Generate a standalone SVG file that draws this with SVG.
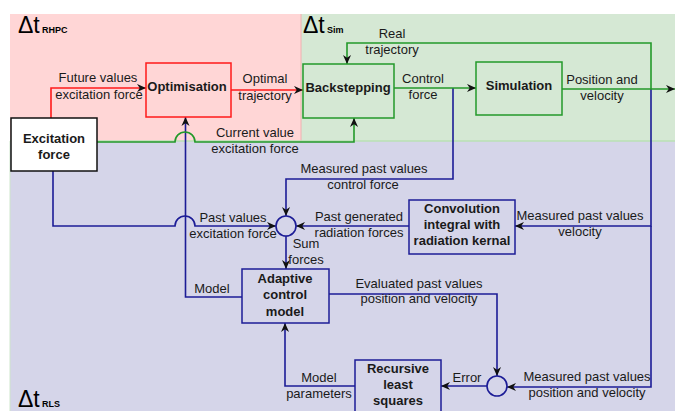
<svg xmlns="http://www.w3.org/2000/svg" width="675" height="411" viewBox="0 0 675 411">
<style>
  text { font-family: "Liberation Sans", Arial, sans-serif; fill: #1a1a1a; }
  .lbl { font-size: 13px; text-anchor: middle; }
  .node { font-size: 13px; font-weight: bold; text-anchor: middle; }
  .delta { font-size: 23px; fill: #000; }
  .sub { font-size: 9px; font-weight: bold; fill: #000; }
  .red { stroke: #ff1a1a; stroke-width: 1.6; fill: none; }
  .grn { stroke: #23992a; stroke-width: 1.6; fill: none; }
  .blu { stroke: #1c1c96; stroke-width: 1.6; fill: none; }
</style>
<defs>
  <marker id="arr" viewBox="0 0 10 10" refX="10" refY="5" markerWidth="9" markerHeight="9" markerUnits="userSpaceOnUse" orient="auto">
    <path d="M0,0.5 L10,5 L0,9.5 L3,5 z" fill="#111"/>
  </marker>
</defs>
<rect x="0" y="0" width="675" height="411" fill="#ffffff"/>
<g id="regions">
  <rect x="10" y="14" width="291" height="127" fill="#ffd6d6"/>
  <rect x="301" y="14" width="374" height="127" fill="#d5e8d4"/>
  <line x1="301" y1="14" x2="301" y2="141" stroke="#f0b0b0" stroke-width="1"/>
  <rect x="10" y="141" width="665" height="270" fill="#d5d5e9"/>
  <line x1="10" y1="141" x2="675" y2="141" stroke="#b8e0b4" stroke-width="1.5"/>
  <line x1="10" y1="141" x2="10" y2="411" stroke="#cfe6cc" stroke-width="1"/>
  <text class="delta" x="18" y="33">Δt</text><text class="sub" x="42" y="33">RHPC</text>
  <text class="delta" x="303" y="33">Δt</text><text class="sub" x="327" y="33">Sim</text>
  <text class="delta" x="18" y="407">Δt</text><text class="sub" x="42" y="407">RLS</text>
</g>
<g id="connectors">
  <!-- blue -->
  <path class="blu" d="M651,89 V226 H515" marker-end="url(#arr)"/>
  <path class="blu" d="M651,226 V387 H507" marker-end="url(#arr)"/>
  <path class="blu" d="M453,88 V179 H286 V216" marker-end="url(#arr)"/>
  <path class="blu" d="M409,226 H296" marker-end="url(#arr)"/>
  <path class="blu" d="M53,171 V226 H175 A10,10 0 0 1 195,226 H276" marker-end="url(#arr)"/>
  <path class="blu" d="M286,236 V269" marker-end="url(#arr)"/>
  <path class="blu" d="M242,297 H185.5 V117" marker-end="url(#arr)"/>
  <path class="blu" d="M329,294 H497 V376" marker-end="url(#arr)"/>
  <path class="blu" d="M487,386 H441" marker-end="url(#arr)"/>
  <path class="blu" d="M355,386 H285 V323" marker-end="url(#arr)"/>
  <!-- red -->
  <path class="red" d="M51,118 V88 H146" marker-end="url(#arr)"/>
  <path class="red" d="M231,90 H303" marker-end="url(#arr)"/>
  <!-- green -->
  <path class="grn" d="M97,142 H175 A10,10 0 0 1 195,142 H354 V118" marker-end="url(#arr)"/>
  <path class="grn" d="M394,88 H476" marker-end="url(#arr)"/>
  <path class="grn" d="M562,89 H675" marker-end="url(#arr)"/>
  <path class="grn" d="M651,89 V43 H347 V64" marker-end="url(#arr)"/>
  <circle class="blu" cx="286" cy="226" r="10"/>
  <circle class="blu" cx="497" cy="386" r="10"/>
  <!-- labels -->
  <text class="lbl" x="98" y="82">Future values</text>
  <text class="lbl" x="99" y="99">excitation force</text>
  <text class="lbl" x="265" y="83">Optimal</text>
  <text class="lbl" x="265" y="100">trajectory</text>
  <text class="lbl" x="255" y="137">Current value</text>
  <text class="lbl" x="255" y="153">excitation force</text>
  <text class="lbl" x="392" y="38">Real</text>
  <text class="lbl" x="392" y="54">trajectory</text>
  <text class="lbl" x="423" y="83">Control</text>
  <text class="lbl" x="423" y="99">force</text>
  <text class="lbl" x="602" y="84">Position and</text>
  <text class="lbl" x="602" y="100">velocity</text>
  <text class="lbl" x="364" y="173">Measured past values</text>
  <text class="lbl" x="363" y="189">control force</text>
  <text class="lbl" x="233" y="222">Past values</text>
  <text class="lbl" x="233" y="238">excitation force</text>
  <text class="lbl" x="359" y="221">Past generated</text>
  <text class="lbl" x="359" y="237">radiation forces</text>
  <text class="lbl" x="580" y="220">Measured past values</text>
  <text class="lbl" x="580" y="236">velocity</text>
  <text class="lbl" x="306" y="248">Sum</text>
  <text class="lbl" x="306" y="264">forces</text>
  <text class="lbl" x="212" y="293">Model</text>
  <text class="lbl" x="419" y="288">Evaluated past values</text>
  <text class="lbl" x="419" y="303">position and velocity</text>
  <text class="lbl" x="467" y="382">Error</text>
  <text class="lbl" x="319" y="382">Model</text>
  <text class="lbl" x="319" y="398">parameters</text>
  <text class="lbl" x="587" y="381">Measured past values</text>
  <text class="lbl" x="587" y="397">position and velocity</text>
</g>
<g id="excitation">
  <rect x="11" y="118" width="86" height="53" fill="#ffffff" stroke="#111" stroke-width="1.5"/>
  <text class="node" x="54" y="143">Excitation</text>
  <text class="node" x="54" y="159">force</text>
</g>
<g id="optimisation">
  <rect x="146" y="63" width="85" height="54" fill="#ffd6d6" stroke="#ff1a1a" stroke-width="1.5"/>
  <text class="node" x="187" y="91">Optimisation</text>
</g>
<g id="backstepping">
  <rect x="303" y="64" width="91" height="54" fill="#d5e8d4" stroke="#23992a" stroke-width="1.5"/>
  <text class="node" x="348" y="92">Backstepping</text>
</g>
<g id="simulation">
  <rect x="476" y="62" width="86" height="53" fill="#d5e8d4" stroke="#23992a" stroke-width="1.5"/>
  <text class="node" x="519" y="90">Simulation</text>
</g>
<g id="convolution">
  <rect x="409" y="200" width="106" height="54" fill="#d5d5e9" stroke="#1c1c96" stroke-width="1.5"/>
  <text class="node" x="462" y="213">Convolution</text>
  <text class="node" x="462" y="229">integral with</text>
  <text class="node" x="462" y="245">radiation kernal</text>
</g>
<g id="adaptive">
  <rect x="242" y="269" width="87" height="54" fill="#d5d5e9" stroke="#1c1c96" stroke-width="1.5"/>
  <text class="node" x="285" y="283">Adaptive</text>
  <text class="node" x="285" y="299">control</text>
  <text class="node" x="285" y="316">model</text>
</g>
<g id="rls">
  <rect x="355" y="360" width="86" height="54" fill="#d5d5e9" stroke="#1c1c96" stroke-width="1.5"/>
  <text class="node" x="398" y="373">Recursive</text>
  <text class="node" x="398" y="389">least</text>
  <text class="node" x="398" y="405">squares</text>
</g>
</svg>
